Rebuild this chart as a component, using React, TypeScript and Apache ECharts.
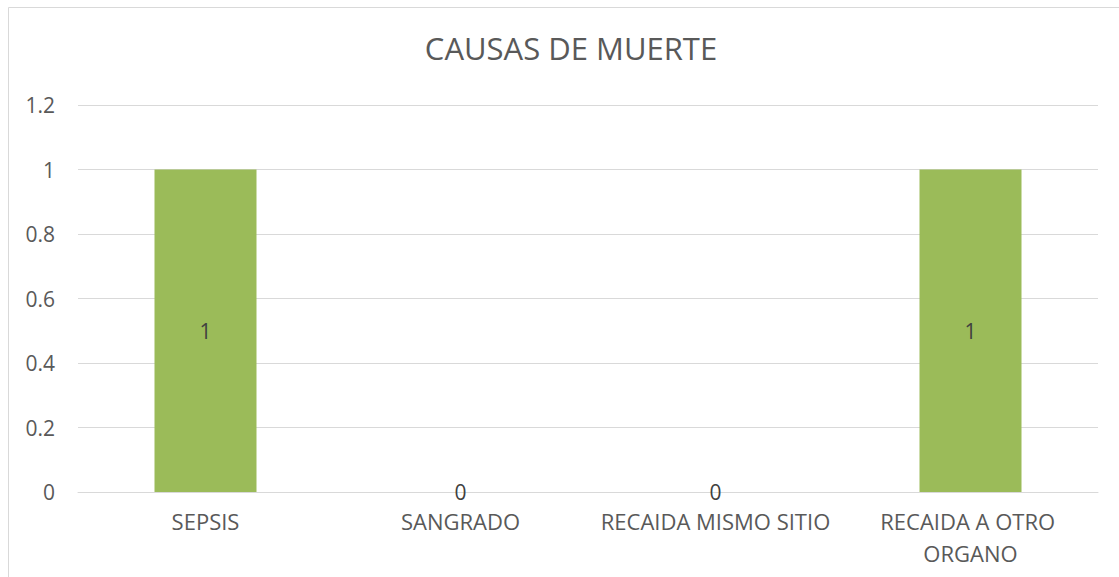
import React, { useEffect, useRef } from "react";
import * as echarts from "echarts";

const categories = ["SEPSIS", "SANGRADO", "RECAIDA MISMO SITIO", "RECAIDA A OTRO ORGANO"];
const values = [1, 0, 0, 1];
const title = "CAUSAS DE MUERTE";

export default function App() {
  const ref = useRef<HTMLDivElement>(null);
  useEffect(() => {
    document.body.style.margin = "0";
    const chart = echarts.init(ref.current!, null, { renderer: "svg" });
    const font = "'Open Sans', 'Noto Sans', sans-serif";
    chart.setOption({
      animation: false,
      textStyle: { fontFamily: font },
      title: {
        text: title,
        left: 566,
        textAlign: "center",
        top: 27,
        textStyle: { fontFamily: font, fontSize: 31, fontWeight: "normal", color: "#595959" },
      },
      graphic: [
        {
          type: "rect",
          shape: { x: 8.5, y: 7.5, width: 1200, height: 700 },
          style: { fill: "none", stroke: "#D9D9D9", lineWidth: 1 },
          silent: true,
        },
      ],
      grid: { left: 78, right: 21, top: 105, bottom: 85 },
      xAxis: {
        type: "category",
        data: categories,
        axisLine: { lineStyle: { color: "#D9D9D9", width: 1 } },
        axisTick: { show: false },
        axisLabel: {
          color: "#595959",
          fontSize: 22,
          fontFamily: font,
          margin: 13,
          interval: 0,
          width: 240,
          overflow: "break",
          lineHeight: 32,
        },
      },
      yAxis: {
        type: "value",
        min: 0,
        max: 1.2,
        interval: 0.2,
        axisLine: { show: false },
        axisTick: { show: false },
        splitLine: { lineStyle: { color: "#D9D9D9", width: 1 } },
        axisLabel: {
          color: "#595959",
          fontSize: 21,
          fontFamily: font,
          margin: 23,
          formatter: (v: number) => String(Math.round(v * 10) / 10),
        },
      },
      series: [
        {
          type: "bar",
          data: values,
          barWidth: "40%",
          itemStyle: { color: "#9BBB59" },
          label: {
            show: true,
            position: "inside",
            color: "#404040",
            fontSize: 21,
            fontFamily: font,
          },
        },
      ],
    });
    return () => chart.dispose();
  }, []);
  return <div ref={ref} style={{ width: 1119, height: 577 }} />;
}
